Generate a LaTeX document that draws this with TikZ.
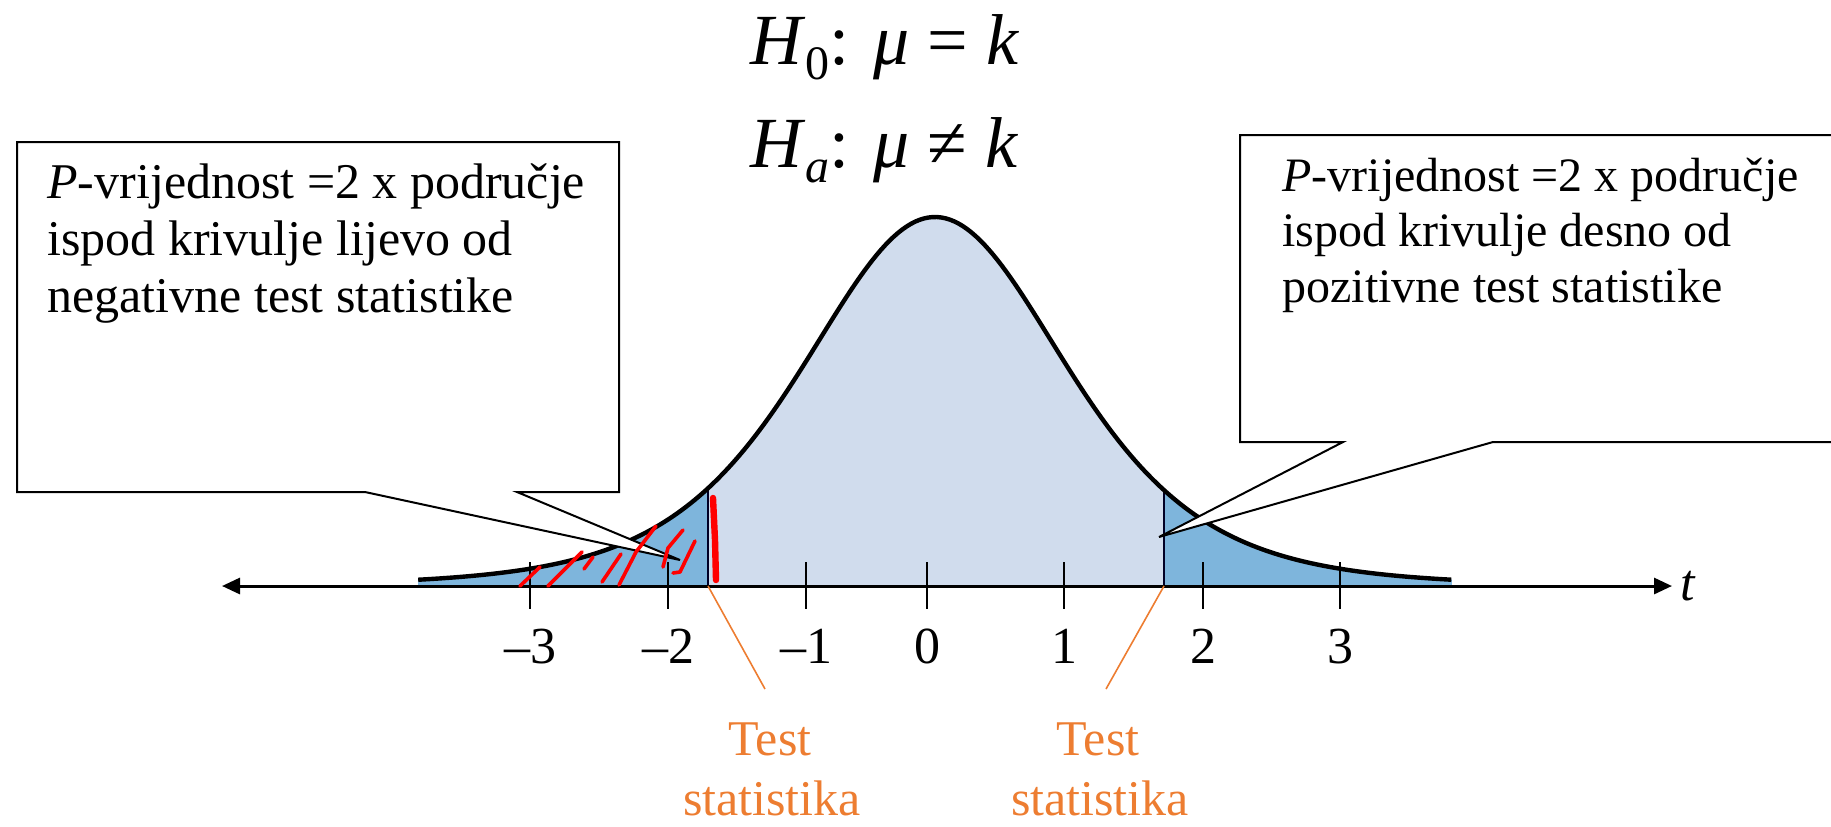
\documentclass[tikz,border=0pt]{standalone}
\usepackage{fontspec}
\setmainfont{Liberation Serif}
\usetikzlibrary{arrows.meta}
\definecolor{lightfill}{RGB}{208,220,237}
\definecolor{tailfill}{RGB}{126,181,220}
\definecolor{orangeT}{RGB}{237,125,49}
\definecolor{scribble}{RGB}{255,0,0}
\begin{document}
\begin{tikzpicture}[x=0.5pt,y=-0.5pt,
  curveline/.style={line width=2.2pt, black},
  ticksty/.style={line width=1pt, black},
  axissty/.style={line width=1.5pt, {Triangle[length=9pt,width=8pt]}-{Triangle[length=9pt,width=8pt]}},
  callout/.style={draw=black, line width=1pt, fill=white, line join=miter},
  boxtext/.style={anchor=base west, inner sep=0pt, font=\fontsize{25}{28}\selectfont},
  boxtextR/.style={anchor=base west, inner sep=0pt, font=\fontsize{24}{28}\selectfont},
  ticklab/.style={anchor=base, inner sep=0pt, font=\fontsize{26}{26}\selectfont},
  testlab/.style={anchor=base, text=orangeT, inner sep=0pt, font=\fontsize{25}{30}\selectfont},
  titlesty/.style={anchor=base west, inner sep=0pt, font=\fontsize{36}{40}\selectfont},
  orangeline/.style={draw=orangeT, line width=0.8pt},
  redmark/.style={draw=scribble, line width=1.8pt, line cap=round, line join=round},
  bound/.style={line width=1pt, black!85!blue}
]
\useasboundingbox (0,0) rectangle (1831,826);
\clip (0,0) rectangle (1831,826);

% fills under the curve
\fill[lightfill] (708,586) -- plot[domain=-1.669:1.684, samples=120]
  ({935+136*\x},{586-369/((1+(\x)*(\x)/5)^3)}) -- (1164,586) -- cycle;
\fill[tailfill] (418,586) -- plot[domain=-3.8:-1.669, samples=80]
  ({935+136*\x},{586-369/((1+(\x)*(\x)/5)^3)}) -- (708,586) -- cycle;
\fill[tailfill] (1164,586) -- plot[domain=1.684:3.8, samples=80]
  ({935+136*\x},{586-369/((1+(\x)*(\x)/5)^3)}) -- (1452,586) -- cycle;

% boundaries of the tails
\coordinate (bL) at (708,586);
\coordinate (bR) at (1164,586);
\coordinate (bLtop) at (708,490);
\coordinate (bRtop) at (1164,492);
\draw[bound] (bL) -- (bLtop);
\draw[bound] (bR) -- (bRtop);

% the curve
\draw[curveline] plot[domain=-3.8:3.8, samples=240]
  ({935+136*\x},{586-369/((1+(\x)*(\x)/5)^3)});

% axis
\coordinate (axL) at (222,586);
\coordinate (axR) at (1672,586);
\draw[axissty] (axL) -- (axR);
\node[anchor=base west, inner sep=0pt, font=\fontsize{26}{26}\selectfont] (tlab) at (1680,600) {\textit{t}};

% ticks and labels
\foreach \px/\lab [count=\i] in {530/–3,668/–2,806/–1,927/0,1064/1,1203/2,1340/3}{
  \coordinate (tk\i a) at (\px,562);
  \coordinate (tk\i b) at (\px,609);
  \draw[ticksty] (tk\i a) -- (tk\i b);
  \node[ticklab] (tl\i) at (\px,663) {\lab};
}

% callouts
\draw[callout] (17,142) -- (619,142) -- (619,492) -- (517,492) -- (680,560) -- (365,492) -- (17,492) -- cycle;
\draw[callout] (1240,135) -- (1900,135) -- (1900,442) -- (1493,442) -- (1159,537) -- (1343,442) -- (1240,442) -- cycle;

% red scribbles
\draw[scribble, line width=3.2pt, line cap=round] (713,498) -- (715,540) -- (716,580);
\draw[redmark] (520,586) -- (540,567);
\draw[redmark] (548,586) -- (582,552);
\draw[redmark] (584,569) -- (593,557);
\draw[redmark] (602,582) -- (621,554);
\draw[redmark] (619,585) -- (636,552) -- (656,526);
\draw[redmark] (663,567) -- (668,548) -- (683,530);
\draw[redmark] (673,573) -- (680,572) -- (695,541);

% box texts
\node[boxtext] (l1) at (47,198) {\textit{P}-vrijednost =2 x područje};
\node[boxtext] (l2) at (47,255) {ispod krivulje lijevo od};
\node[boxtext] (l3) at (47,312) {negativne test statistike};
\node[boxtextR] (r1) at (1282,191) {\textit{P}-vrijednost =2 x područje};
\node[boxtextR] (r2) at (1282,246) {ispod krivulje desno od};
\node[boxtextR] (r3) at (1282,302) {pozitivne test statistike};

% hypotheses
\node[titlesty] (h0) at (750,64) {\textit{H}\raisebox{-0.22em}{\fontsize{24}{24}\selectfont 0}: \textit{μ} = \textit{k}};
\node[titlesty] (ha) at (750,167) {\textit{H}\raisebox{-0.22em}{\fontsize{24}{24}\selectfont\textit{a}}: \textit{μ} ≠ \textit{k}};

% test statistic labels
\node[testlab] (tsL1) at (770,755) {Test};
\node[testlab] (tsL2) at (772,815) {statistika};
\node[testlab] (tsR1) at (1098,755) {Test};
\node[testlab] (tsR2) at (1100,815) {statistika};
\coordinate (oL) at (765,689);
\coordinate (oR) at (1106,689);
\draw[orangeline] (bL) -- (oL);
\draw[orangeline] (bR) -- (oR);
\end{tikzpicture}
\end{document}
